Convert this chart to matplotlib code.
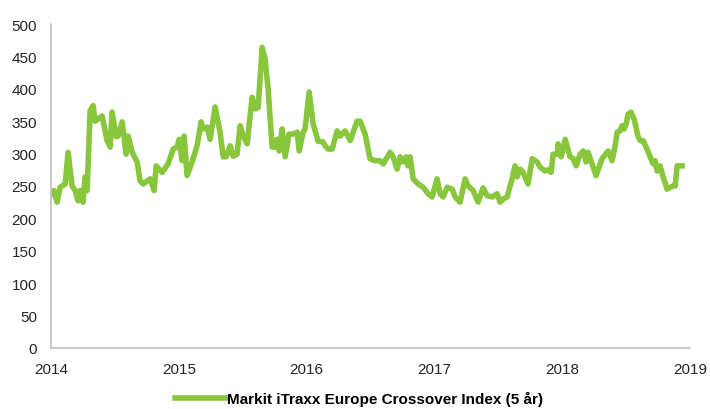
import matplotlib
matplotlib.use("Agg")
import matplotlib.pyplot as plt

# =====================================
# DATA (decimal year, index level)
# =====================================
years = [
    2014.008, 2014.023, 2014.047, 2014.070, 2014.110, 2014.133, 2014.164, 2014.188,
    2014.211, 2014.227, 2014.250, 2014.266, 2014.282, 2014.305, 2014.329, 2014.344,
    2014.399, 2014.438, 2014.462, 2014.477, 2014.509, 2014.524, 2014.556, 2014.587,
    2014.603, 2014.634, 2014.673, 2014.696, 2014.720, 2014.775, 2014.806, 2014.822,
    2014.869, 2014.915, 2014.955, 2014.986, 2015.002, 2015.025, 2015.041, 2015.064,
    2015.103, 2015.142, 2015.174, 2015.189, 2015.221, 2015.244, 2015.283, 2015.322,
    2015.346, 2015.369, 2015.401, 2015.424, 2015.455, 2015.479, 2015.502, 2015.534,
    2015.573, 2015.596, 2015.620, 2015.651, 2015.674, 2015.698, 2015.729, 2015.753,
    2015.768, 2015.784, 2015.808, 2015.831, 2015.862, 2015.894, 2015.925, 2015.941,
    2015.972, 2015.987, 2016.019, 2016.050, 2016.089, 2016.128, 2016.144, 2016.167,
    2016.199, 2016.238, 2016.261, 2016.300, 2016.340, 2016.394, 2016.418, 2016.457,
    2016.496, 2016.535, 2016.574, 2016.598, 2016.653, 2016.676, 2016.707, 2016.731,
    2016.754, 2016.778, 2016.793, 2016.809, 2016.833, 2016.872, 2016.911, 2016.950,
    2016.981, 2017.020, 2017.044, 2017.067, 2017.099, 2017.138, 2017.161, 2017.200,
    2017.239, 2017.263, 2017.302, 2017.341, 2017.380, 2017.412, 2017.451, 2017.490,
    2017.513, 2017.537, 2017.568, 2017.607, 2017.631, 2017.646, 2017.670, 2017.693,
    2017.732, 2017.764, 2017.803, 2017.826, 2017.865, 2017.889, 2017.912, 2017.928,
    2017.959, 2017.967, 2017.991, 2018.022, 2018.061, 2018.085, 2018.108, 2018.139,
    2018.163, 2018.186, 2018.202, 2018.233, 2018.264, 2018.311, 2018.358, 2018.390,
    2018.413, 2018.429, 2018.452, 2018.468, 2018.484, 2018.499, 2018.515, 2018.538,
    2018.562, 2018.593, 2018.609, 2018.632, 2018.656, 2018.687, 2018.711, 2018.726,
    2018.742, 2018.765, 2018.789, 2018.820, 2018.844, 2018.867, 2018.883, 2018.898,
    2018.937,
]

values = [
    238, 243, 225, 248, 253, 302, 250, 243,
    227, 243, 225, 264, 243, 366, 374, 350,
    358, 320, 310, 364, 326, 327, 349, 299,
    327, 302, 287, 258, 253, 261, 243, 281,
    271, 284, 307, 310, 322, 289, 327, 266,
    287, 312, 349, 338, 341, 322, 372, 333,
    295, 295, 312, 296, 299, 343, 327, 315,
    387, 369, 371, 464, 446, 400, 310, 310,
    322, 304, 338, 295, 330, 330, 333, 304,
    333, 338, 395, 346, 319, 318, 312, 307,
    307, 335, 327, 335, 320, 350, 350, 330,
    292, 289, 289, 284, 302, 295, 276, 295,
    287, 295, 281, 295, 261, 253, 248, 238,
    233, 261, 238, 233, 248, 245, 233, 225,
    261, 250, 243, 225, 247, 235, 233, 238,
    225, 230, 233, 261, 281, 264, 276, 271,
    253, 292, 287, 279, 273, 275, 271, 299,
    299, 315, 295, 322, 295, 292, 281, 299,
    304, 287, 302, 284, 266, 292, 304, 289,
    312, 333, 335, 343, 338, 346, 361, 364,
    353, 326, 320, 320, 310, 295, 284, 289,
    273, 281, 264, 245, 248, 250, 250, 281,
    281,
]

x_ticks = [2014, 2015, 2016, 2017, 2018, 2019]
y_ticks = [0, 50, 100, 150, 200, 250, 300, 350, 400, 450, 500]

series_label = "Markit iTraxx Europe Crossover Index (5 år)"

# =====================================
# PLOT
# =====================================
plt.rcParams["font.family"] = ["Liberation Sans", "DejaVu Sans"]

fig = plt.figure(figsize=(7.1, 4.1), dpi=100)
ax = fig.add_axes([0.072, 0.149, 0.900, 0.790])

ax.plot(
    years,
    values,
    color="#88C63C",
    linewidth=4.0,
    solid_joinstyle="round",
    label=series_label
)

ax.set_xlim(2014, 2019)
ax.set_ylim(0, 500)

ax.set_xticks(x_ticks)
ax.set_xticklabels([str(t) for t in x_ticks])
ax.set_yticks(y_ticks)

ax.tick_params(axis="both", length=0, labelsize=11, colors="#262626")
ax.tick_params(axis="x", pad=10)
ax.tick_params(axis="y", pad=10)

for side in ["top", "right"]:
    ax.spines[side].set_visible(False)

for side in ["left", "bottom"]:
    ax.spines[side].set_color("#BFBFBF")
    ax.spines[side].set_linewidth(1.2)

fig.legend(
    loc="lower center",
    bbox_to_anchor=(0.505, -0.027),
    frameon=False,
    handlelength=3.4,
    handletextpad=0.0,
    prop={"weight": "bold", "size": 11}
)

fig.savefig("out.png", dpi=100)
